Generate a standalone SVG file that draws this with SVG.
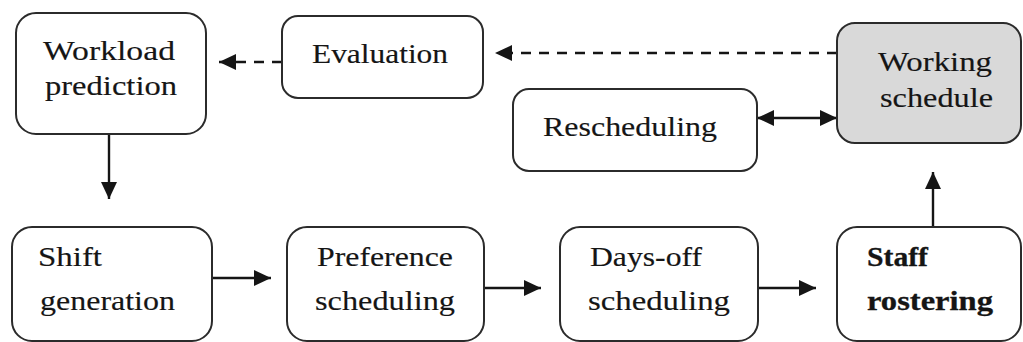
<svg xmlns="http://www.w3.org/2000/svg" width="1023" height="342" viewBox="0 0 1023 342">
<style>
.box{fill:#ffffff;stroke:#2b2b2b;stroke-width:2}
.gray{fill:#d9d9d9}
.t{font-family:"Liberation Serif","Times New Roman",serif;font-size:27px;fill:#151515;stroke:#151515;stroke-width:0.15}
.b{font-weight:bold;stroke-width:0.3}
.c{stroke:#151515;stroke-width:2.4;fill:none}
.d{stroke-dasharray:10 8}
</style>
<defs>
<marker id="ah" viewBox="0 0 17 16" refX="17" refY="8" markerWidth="17" markerHeight="16" markerUnits="userSpaceOnUse" orient="auto-start-reverse">
<path d="M0,0 L17,8 L0,16 Z" fill="#151515"/>
</marker>
</defs>
<rect width="1023" height="342" fill="#ffffff"/>
<g id="connectors">
<line class="c d" x1="282" y1="62" x2="219" y2="62" marker-end="url(#ah)"/>
<line class="c d" x1="837" y1="53" x2="495" y2="53" marker-end="url(#ah)"/>
<line class="c" x1="757" y1="118" x2="837" y2="118" marker-start="url(#ah)" marker-end="url(#ah)"/>
<line class="c" x1="109" y1="134" x2="109" y2="199" marker-end="url(#ah)"/>
<line class="c" x1="212" y1="278" x2="271" y2="278" marker-end="url(#ah)"/>
<line class="c" x1="484" y1="288" x2="541" y2="288" marker-end="url(#ah)"/>
<line class="c" x1="758" y1="288" x2="816" y2="288" marker-end="url(#ah)"/>
<line class="c" x1="933" y1="227" x2="933" y2="172" marker-end="url(#ah)"/>
</g>
<g id="workload">
<rect class="box" x="16" y="13" width="190" height="121" rx="20"/>
<text class="t" x="43" y="60" textLength="132" lengthAdjust="spacingAndGlyphs">Workload</text>
<text class="t" x="45" y="95" textLength="132" lengthAdjust="spacingAndGlyphs">prediction</text>
</g>
<g id="evaluation">
<rect class="box" x="282" y="16" width="201" height="82" rx="16"/>
<text class="t" x="312" y="63" textLength="136" lengthAdjust="spacingAndGlyphs">Evaluation</text>
</g>
<g id="working">
<rect class="box gray" x="837" y="23" width="184" height="120" rx="18"/>
<text class="t" x="878" y="71" textLength="114" lengthAdjust="spacingAndGlyphs">Working</text>
<text class="t" x="880" y="107" textLength="113" lengthAdjust="spacingAndGlyphs">schedule</text>
</g>
<g id="rescheduling">
<rect class="box" x="513" y="89" width="244" height="82" rx="16"/>
<text class="t" x="543" y="136" textLength="174" lengthAdjust="spacingAndGlyphs">Rescheduling</text>
</g>
<g id="shift">
<rect class="box" x="12" y="227" width="200" height="114" rx="20"/>
<text class="t" x="38" y="266" textLength="64" lengthAdjust="spacingAndGlyphs">Shift</text>
<text class="t" x="40" y="310" textLength="135" lengthAdjust="spacingAndGlyphs">generation</text>
</g>
<g id="preference">
<rect class="box" x="287" y="227" width="197" height="114" rx="20"/>
<text class="t" x="317" y="266" textLength="136" lengthAdjust="spacingAndGlyphs">Preference</text>
<text class="t" x="315" y="310" textLength="140" lengthAdjust="spacingAndGlyphs">scheduling</text>
</g>
<g id="daysoff">
<rect class="box" x="560" y="227" width="198" height="114" rx="20"/>
<text class="t" x="590" y="266" textLength="112" lengthAdjust="spacingAndGlyphs">Days-off</text>
<text class="t" x="588" y="310" textLength="142" lengthAdjust="spacingAndGlyphs">scheduling</text>
</g>
<g id="staff">
<rect class="box" x="837" y="227" width="184" height="114" rx="20"/>
<text class="t b" x="867" y="266" textLength="61" lengthAdjust="spacingAndGlyphs">Staff</text>
<text class="t b" x="867" y="310" textLength="126" lengthAdjust="spacingAndGlyphs">rostering</text>
</g>
</svg>
